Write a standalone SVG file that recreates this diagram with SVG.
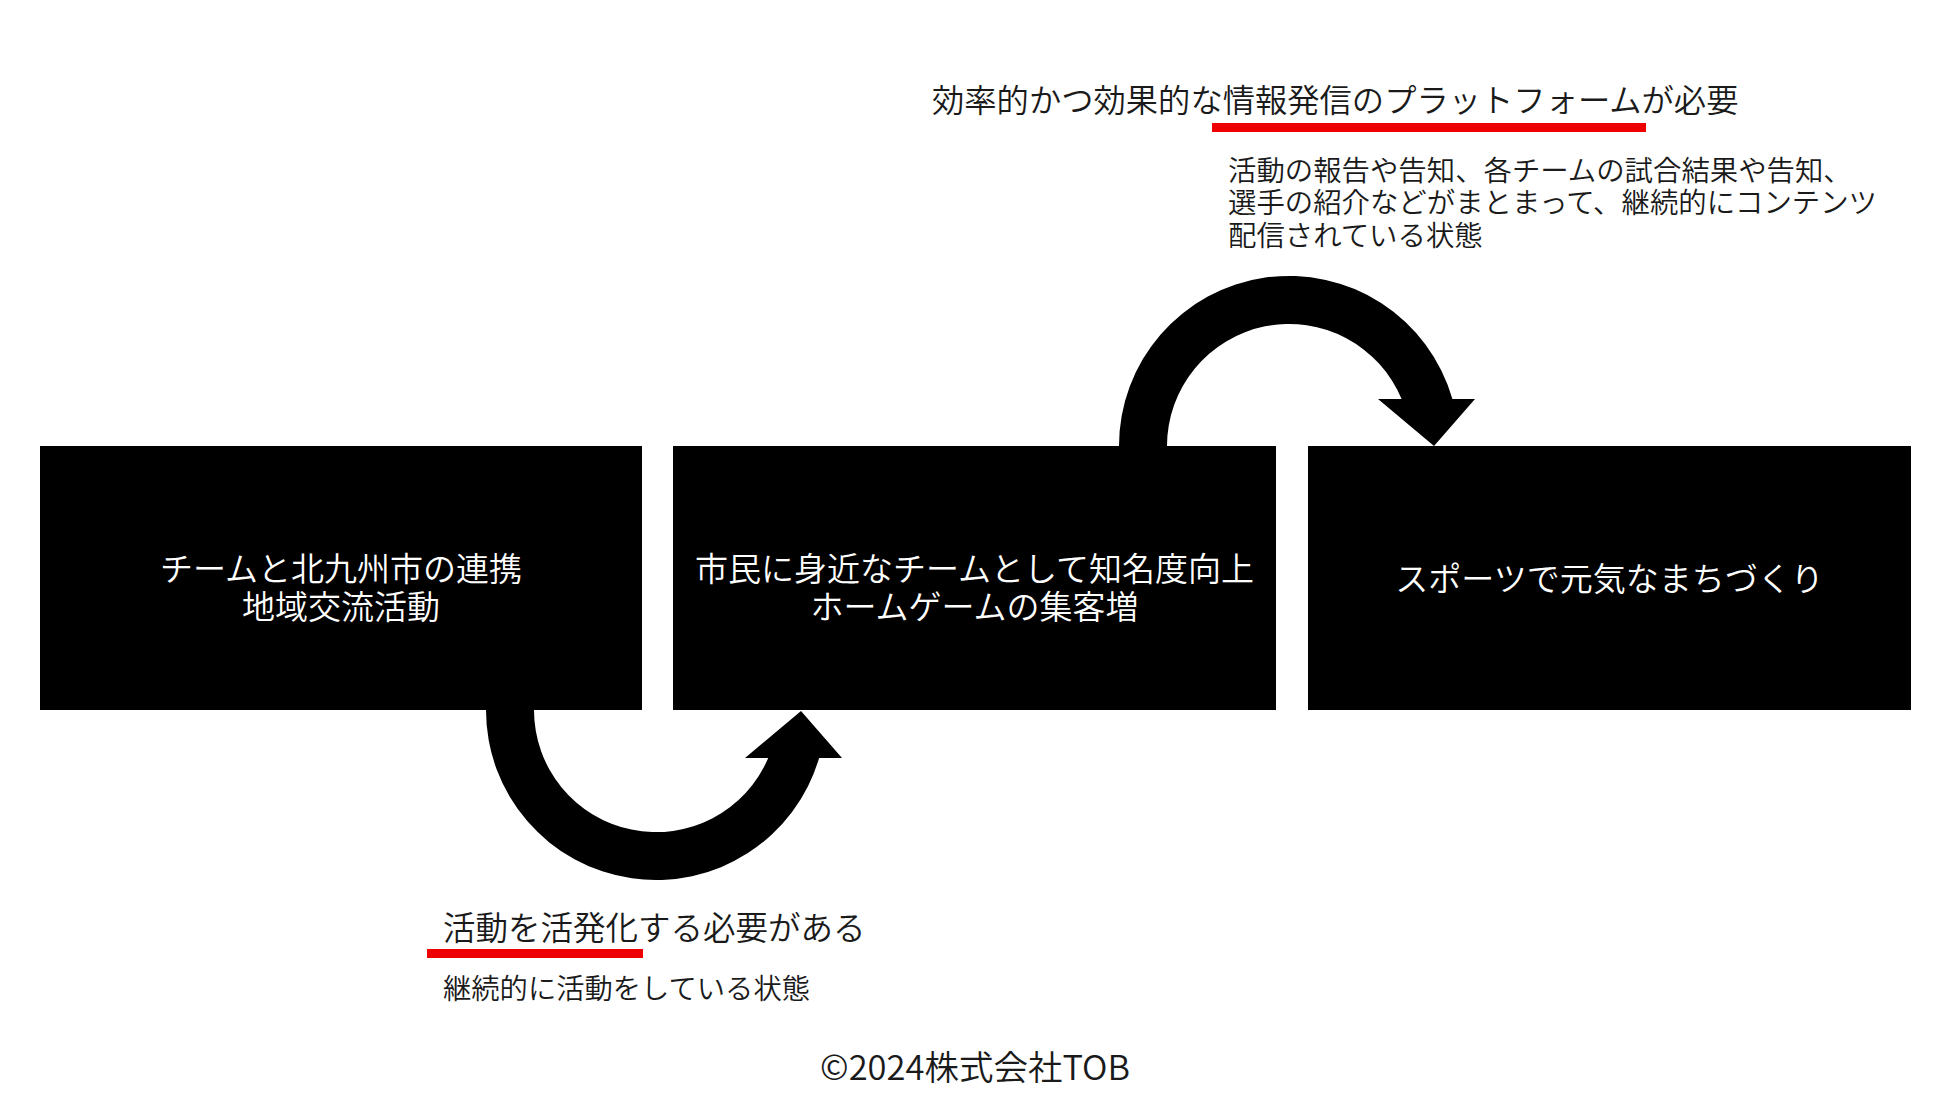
<svg xmlns="http://www.w3.org/2000/svg" width="1950" height="1097" viewBox="0 0 1950 1097">
  <style>
    .box { fill: #000000; }
    .boxtext { fill: #ffffff; font-family: "Noto Sans CJK JP", "Noto Sans", sans-serif; font-size: 33px; font-weight: 350; text-anchor: middle; }
    .note { fill: #1a1a1a; font-family: "Noto Sans CJK JP", "Noto Sans", sans-serif; font-weight: 350; }
    .mark { fill: #ee0000; }
    .arrow { fill: #000000; }
  </style>
  <rect width="1950" height="1097" fill="#ffffff"/>

  <g id="connectors">
    <path id="arrow-1-2" class="arrow" d="M 486 710 A 170 170 0 0 0 819.1 758 L 842 758 L 801 711 L 745 758 L 768.2 758 A 122 122 0 0 1 534 710 Z"/>
    <path id="arrow-2-3" class="arrow" d="M 1119 446 A 170 170 0 0 1 1452.4 399 L 1475 399 L 1434 446 L 1378 399 L 1401.6 399 A 122 122 0 0 0 1167 446 Z"/>
  </g>

  <g id="node-1">
    <rect class="box" x="40" y="446" width="602" height="264"/>
    <text class="boxtext" x="341" y="580.5">チームと北九州市の連携<tspan x="341" dy="38">地域交流活動</tspan></text>
  </g>
  <g id="node-2">
    <rect class="box" x="673" y="446" width="603" height="264"/>
    <text class="boxtext" x="974.5" y="580.5">市民に身近なチームとして知名度向上<tspan x="974.5" dy="38">ホームゲームの集客増</tspan></text>
  </g>
  <g id="node-3">
    <rect class="box" x="1308" y="446" width="603" height="264"/>
    <text class="boxtext" x="1609.5" y="590.5">スポーツで元気なまちづくり</text>
  </g>

  <g id="note-top">
    <text class="note" x="932" y="112" style="font-size:32.3px">効率的かつ効果的な情報発信のプラットフォームが必要</text>
    <rect class="mark" x="1212" y="123" width="434" height="9"/>
    <text class="note" x="1228" y="180.5" style="font-size:28.4px">活動の報告や告知、各チームの試合結果や告知、<tspan x="1228" dy="32.5">選手の紹介などがまとまって、継続的にコンテンツ</tspan><tspan x="1228" dy="32.5">配信されている状態</tspan></text>
  </g>

  <g id="note-bottom">
    <text class="note" x="443" y="940" style="font-size:32.5px">活動を活発化する必要がある</text>
    <rect class="mark" x="427" y="949" width="216" height="9"/>
    <text class="note" x="443" y="998.5" style="font-size:28.3px">継続的に活動をしている状態</text>
  </g>

  <text id="copyright" class="note" x="975" y="1080" style="font-size:34.5px" text-anchor="middle">©2024株式会社TOB</text>
</svg>
